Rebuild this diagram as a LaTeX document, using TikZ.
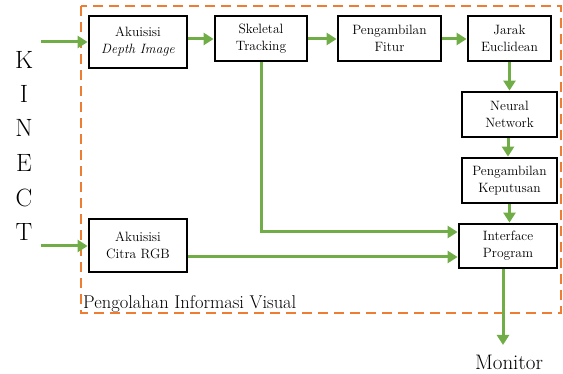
\documentclass[tikz,border=0pt]{standalone}
\usepackage{fontspec}
\usetikzlibrary{arrows.meta}
\definecolor{grn}{RGB}{112,173,71}
\definecolor{org}{RGB}{237,125,49}
\tikzset{
  blk/.style={draw=black, line width=2.8pt, fill=white, align=center, inner sep=0pt,
    font=\fontsize{13.5}{17}\selectfont},
  arr/.style={draw=grn, line width=3pt, -{Triangle[length=10pt,width=12pt]}},
  kin/.style={font=\fontsize{25}{25}\selectfont, anchor=base},
}
\begin{document}
\begin{tikzpicture}[x=1pt,y=-1pt]
\useasboundingbox (0,0) rectangle (563,374);
% dashed frame
\draw[org, line width=2.4pt, dash pattern=on 10pt off 6pt] (81,6) rectangle (561,313);
\node[anchor=base west, inner sep=0pt, font=\fontsize{18.5}{18.5}\selectfont] (lbl) at (83,309) {Pengolahan Informasi Visual};
% boxes
\node[blk, minimum width=98pt, minimum height=52pt] (A) at (138,42) {Akuisisi\\\textit{Depth Image}};
\node[blk, minimum width=92pt, minimum height=45pt] (S) at (261,38.5) {Skeletal\\Tracking};
\node[blk, minimum width=103pt, minimum height=45pt] (F) at (389.5,38.5) {Pengambilan\\Fitur};
\node[blk, minimum width=83pt, minimum height=45pt] (J) at (509.5,38.5) {Jarak\\Euclidean};
\node[blk, minimum width=95pt, minimum height=45pt] (N) at (509.5,114.5) {Neural\\Network};
\node[blk, minimum width=95pt, minimum height=45pt] (K) at (509.5,180.5) {Pengambilan\\Keputusan};
\node[blk, minimum width=98pt, minimum height=44pt] (I) at (508,246) {Interface\\Program};
\node[blk, minimum width=98pt, minimum height=53pt] (R) at (138,245.5) {Akuisisi\\Citra RGB};
% KINECT
\node[kin] (k1) at (24,69) {K};
\node[kin] (k2) at (24,103) {I};
\node[kin] (k3) at (24,137) {N};
\node[kin] (k4) at (24,172) {E};
\node[kin] (k5) at (24,207) {C};
\node[kin] (k6) at (24,241) {T};
\node[anchor=base, font=\fontsize{21}{21}\selectfont] (M) at (509,370) {Monitor};
\coordinate (in1) at (41,42);
\coordinate (in2) at (41,246);
\coordinate (out) at (503,345);
\coordinate (bend) at (261,232);
% connectors
\draw[arr] (in1) -- (A.west |- in1);
\draw[arr] (in2) -- (R.west |- in2);
\draw[arr] (A.east |- 0,39) -- (S.west |- 0,39);
\draw[arr] (S.east |- 0,39) -- (F.west |- 0,39);
\draw[arr] (F.east |- 0,39) -- (J.west |- 0,39);
\draw[arr] (J.south) -- (N.north);
\draw[arr] (508,0 |- N.south) -- (508,0 |- K.north);
\draw[arr] (K.south) -- (K.south |- I.north);
\draw[arr] (S.south) -- (bend) -- (I.west |- bend);
\draw[arr] (R.east |- 0,257) -- (I.west |- 0,257);
\draw[arr] (out |- I.south) -- (out);
\end{tikzpicture}
\end{document}
